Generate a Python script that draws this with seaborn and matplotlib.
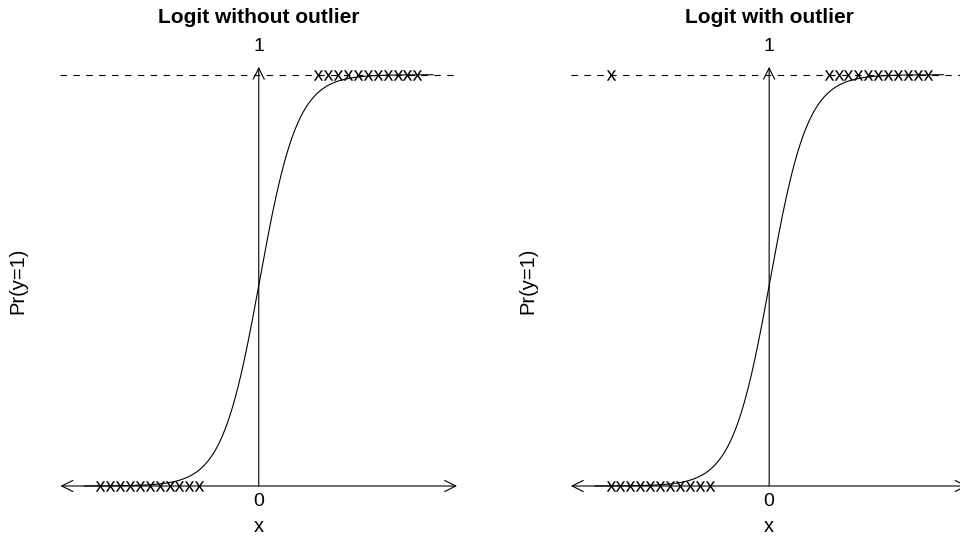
import numpy as np
import pandas as pd
import matplotlib
matplotlib.use("Agg")
import matplotlib.pyplot as plt
import seaborn as sns

# Observations: y = 0 on the left, y = 1 on the right
x_zero = [-4.0, -3.75, -3.5, -3.25, -3.0, -2.75, -2.5, -2.25, -2.0, -1.75, -1.5]
x_one = [1.5, 1.75, 2.0, 2.25, 2.5, 2.75, 3.0, 3.25, 3.5, 3.75, 4.0]
x_outlier = [-4.0]
y_outlier = [1]

# Logistic curve coefficients (intercept, slope) for each panel
coef_without = [-0.05, 2.1]
coef_with = [-0.05, 2.1]
curve_range = [-4.4, 4.4]

titles = ["Logit without outlier", "Logit with outlier"]
x_limits = [-5, 5]
y_tick_top = "1"
x_tick_origin = "0"
x_label = "x"
y_label = "Pr(y=1)"

sns.set_theme(style="white")
plt.rcParams["font.family"] = ["Liberation Sans", "DejaVu Sans"]
plt.rcParams["mathtext.fontset"] = "custom"
plt.rcParams["mathtext.rm"] = "Liberation Sans"
plt.rcParams["text.color"] = "black"

W, H = 960, 537
fig = plt.figure(figsize=(W / 100, H / 100), dpi=100)
fig.patch.set_facecolor("white")

px_per_unit = 39.65
axis_left_px = [60.5, 570.9]
y0_px, y1_px = 486.0, 74.7
ax_h = (y0_px - y1_px) / H
ax_w = 10 * px_per_unit / W

lw = 0.8


def draw_panel(ax, title, coef, with_outlier):
    ax.set_xlim(*x_limits)
    ax.set_ylim(0, 1)
    ax.set_axis_off()

    # Fitted logistic curve
    grid = np.linspace(curve_range[0], curve_range[1], 400)
    prob = 1.0 / (1.0 + np.exp(-(coef[0] + coef[1] * grid)))
    curve = pd.DataFrame({"x": grid, "p": prob})
    sns.lineplot(data=curve, x="x", y="p", ax=ax, color="black", lw=lw)

    # Reference line at Pr = 1
    ax.plot(x_limits, [1, 1], color="black", lw=lw, linestyle=(0, (5.8, 5.8)))

    # Axes arrows
    arrow = dict(arrowstyle="<->,head_length=0.4,head_width=0.2", lw=lw,
                 color="black", shrinkA=0, shrinkB=0, mutation_scale=20)
    ax.annotate("", xy=(x_limits[1], 0), xytext=(x_limits[0], 0),
                arrowprops=arrow, annotation_clip=False)
    arrow_up = dict(arrow, arrowstyle="->,head_length=0.4,head_width=0.2")
    ax.annotate("", xy=(0, 1.019), xytext=(0, 0),
                arrowprops=arrow_up, annotation_clip=False)

    # Observed points
    pts_x = x_zero + x_one + (x_outlier if with_outlier else [])
    pts_y = [0] * len(x_zero) + [1] * len(x_one) + (y_outlier if with_outlier else [])
    pts = pd.DataFrame({"x": pts_x, "y": pts_y})
    sns.scatterplot(data=pts, x="x", y="y", ax=ax, marker=r"$\mathrm{x}$",
                    s=56, color="black", linewidth=0)

    for art in ax.lines + ax.collections:
        art.set_clip_on(False)

    # Labels
    upp = 1.0 / (y0_px - y1_px)  # data units per pixel vertically
    ax.text(0, 1 + (y1_px - 17.5) * upp, title, ha="center", va="center",
            fontsize=15, fontweight="bold", color="black")
    ax.text(0, 1 + (y1_px - 46.5) * upp, y_tick_top, ha="center", va="center",
            fontsize=14, color="black")
    ax.text(0, -(502 - y0_px) * upp, x_tick_origin, ha="center", va="center",
            fontsize=14, color="black")
    ax.text(0, -(527 - y0_px) * upp, x_label, ha="center", va="center",
            fontsize=14.5, color="black")
    ax.text(x_limits[0] - (60.5 - 17.5) / px_per_unit, 0.5, y_label,
            ha="center", va="center", rotation=90, fontsize=14.5, color="black")


for i, (title, coef) in enumerate(zip(titles, [coef_without, coef_with])):
    ax = fig.add_axes([axis_left_px[i] / W, (H - y0_px) / H, ax_w, ax_h])
    draw_panel(ax, title, coef, with_outlier=(i == 1))

fig.savefig("out.png", dpi=100, facecolor="white")
